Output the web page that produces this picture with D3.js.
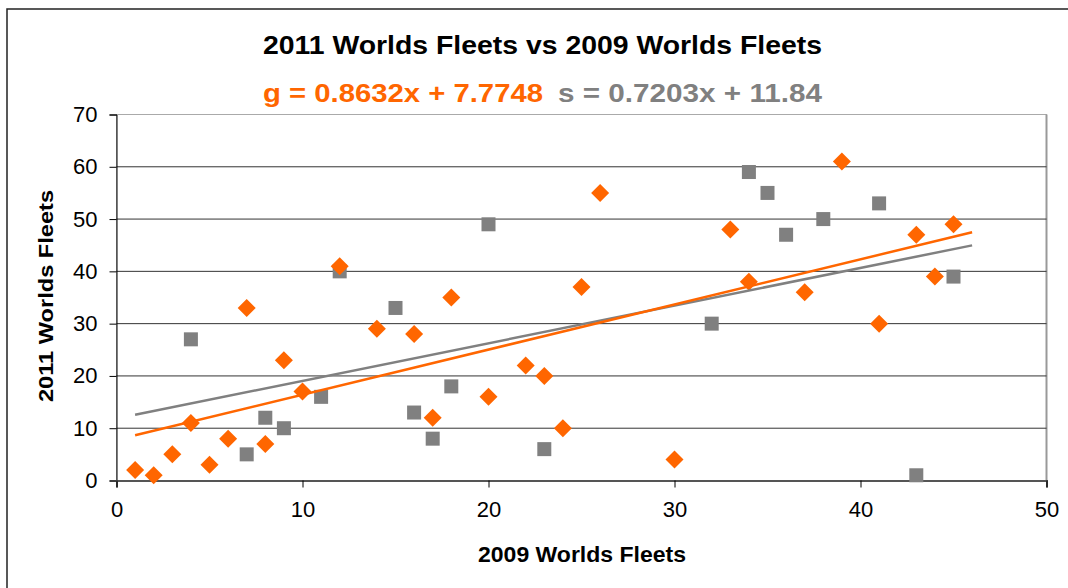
<!DOCTYPE html>
<html>
<head>
<meta charset="utf-8">
<script src="https://cdn.jsdelivr.net/npm/d3@7"></script>
<style>
  body { margin: 0; background: #fff; }
  svg { font-family: "Liberation Sans", Arial, sans-serif; }
</style>
</head>
<body>
<script>
// 2009 fleet (x) vs 2011 fleet (y), gold = orange diamonds, silver = grey squares
const goldX = [1, 2, 3, 4, 5, 6, 7, 8, 9, 10, 12, 14, 16, 17, 18, 20, 22, 23, 24, 25, 26, 30, 33, 34, 37, 39, 41, 43, 44, 45];
const goldY = [2, 1, 5, 11, 3, 8, 33, 7, 23, 17, 41, 29, 28, 12, 35, 16, 22, 20, 10, 37, 55, 4, 48, 38, 36, 61, 30, 47, 39, 49];
const silverX = [4, 7, 8, 9, 11, 12, 15, 16, 17, 18, 20, 23, 32, 34, 35, 36, 38, 41, 43, 45];
const silverY = [27, 5, 12, 10, 16, 40, 33, 13, 8, 18, 49, 6, 30, 59, 55, 47, 50, 53, 1, 39];

// trend line coefficients [slope, intercept] and fitted x range
const goldTrend = [0.8632, 7.7748];
const silverTrend = [0.7203, 11.84];
const trendRange = [1, 46];

const xTicks = [0, 10, 20, 30, 40, 50];
const yTicks = [0, 10, 20, 30, 40, 50, 60, 70];

const orange = "#ff6600";
const grey = "#808080";

const svg = d3.select("body").append("svg")
  .attr("width", 1068)
  .attr("height", 588);

// outer chart frame (runs off the right and bottom edges)
svg.append("rect")
  .attr("x", 7).attr("y", 9)
  .attr("width", 1100).attr("height", 620)
  .attr("fill", "none")
  .attr("stroke", "#222")
  .attr("stroke-width", 1.5);

const pLeft = 116.5, pRight = 1046.5, pTop = 114.5, pBottom = 480.5;

const x = d3.scaleLinear().domain([0, 50]).range([pLeft, pRight]);
const y = d3.scaleLinear().domain([0, 70]).range([pBottom, pTop]);

// plot area border
svg.append("rect")
  .attr("x", pLeft).attr("y", pTop)
  .attr("width", pRight - pLeft).attr("height", pBottom - pTop)
  .attr("fill", "none")
  .attr("stroke", "#aaa")
  .attr("stroke-width", 1);
svg.append("line")
  .attr("x1", pRight).attr("x2", pRight)
  .attr("y1", pTop).attr("y2", pBottom)
  .attr("stroke", "#999").attr("stroke-width", 2);

// horizontal gridlines
svg.append("g")
  .selectAll("line")
  .data(yTicks.filter(d => d > 0 && d < 70))
  .enter()
  .append("line")
    .attr("x1", pLeft).attr("x2", pRight)
    .attr("y1", d => y(d)).attr("y2", d => y(d))
    .attr("stroke", "#333")
    .attr("stroke-width", 1);

// y axis
const yAxis = svg.append("g")
  .attr("transform", `translate(${pLeft},0)`)
  .call(d3.axisLeft(y).tickValues(yTicks).tickSize(7).tickPadding(12));
yAxis.select(".domain").attr("stroke", "#000");
yAxis.selectAll(".tick line").attr("stroke", "#000");
yAxis.selectAll("text")
  .style("font-size", "22px")
  .attr("fill", "#000");

// x axis
const xAxis = svg.append("g")
  .attr("transform", `translate(0,${pBottom})`)
  .call(d3.axisBottom(x).tickValues(xTicks).tickSize(7).tickPadding(14));
xAxis.select(".domain").attr("stroke", "#555").attr("stroke-width", 2);
xAxis.selectAll(".tick line").attr("stroke", "#000");
xAxis.selectAll("text")
  .style("font-size", "22px")
  .attr("fill", "#000");

// trend lines
function drawTrend(coef, color) {
  const pts = trendRange.map(v => [v, coef[0] * v + coef[1]]);
  svg.append("path")
    .datum(pts)
    .attr("d", d3.line().x(d => x(d[0])).y(d => y(d[1])))
    .attr("fill", "none")
    .attr("stroke", color)
    .attr("stroke-width", 2.5);
}

// silver squares
svg.append("g")
  .selectAll("rect")
  .data(silverX.map((v, i) => [v, silverY[i]]))
  .enter()
  .append("rect")
    .attr("x", d => x(d[0]) - 7)
    .attr("y", d => y(d[1]) - 7)
    .attr("width", 14)
    .attr("height", 14)
    .attr("fill", grey);

// gold diamonds
svg.append("g")
  .selectAll("path")
  .data(goldX.map((v, i) => [v, goldY[i]]))
  .enter()
  .append("path")
    .attr("transform", d => `translate(${x(d[0])},${y(d[1])})`)
    .attr("d", "M0,-9L9,0L0,9L-9,0Z")
    .attr("fill", orange);

drawTrend(silverTrend, grey);
drawTrend(goldTrend, orange);

// titles
svg.append("text")
  .attr("x", 263)
  .attr("y", 54)
  .attr("textLength", 559)
  .attr("lengthAdjust", "spacingAndGlyphs")
  .style("font-size", "25.5px")
  .style("font-weight", "bold")
  .text("2011 Worlds Fleets vs 2009 Worlds Fleets");

svg.append("text")
  .attr("x", 263)
  .attr("y", 101.5)
  .attr("textLength", 280)
  .attr("lengthAdjust", "spacingAndGlyphs")
  .attr("fill", orange)
  .style("font-size", "25.5px")
  .style("font-weight", "bold")
  .text("g = " + goldTrend[0] + "x + " + goldTrend[1]);

svg.append("text")
  .attr("x", 558)
  .attr("y", 101.5)
  .attr("textLength", 264)
  .attr("lengthAdjust", "spacingAndGlyphs")
  .attr("fill", grey)
  .style("font-size", "25.5px")
  .style("font-weight", "bold")
  .text("s = " + silverTrend[0] + "x + " + silverTrend[1]);

svg.append("text")
  .attr("x", 478)
  .attr("y", 562)
  .attr("textLength", 208)
  .attr("lengthAdjust", "spacingAndGlyphs")
  .style("font-size", "22px")
  .style("font-weight", "bold")
  .text("2009 Worlds Fleets");

svg.append("text")
  .attr("transform", "translate(53,402) rotate(-90)")
  .attr("textLength", 212)
  .attr("lengthAdjust", "spacingAndGlyphs")
  .style("font-size", "21px")
  .style("font-weight", "bold")
  .text("2011 Worlds Fleets");
</script>
</body>
</html>
